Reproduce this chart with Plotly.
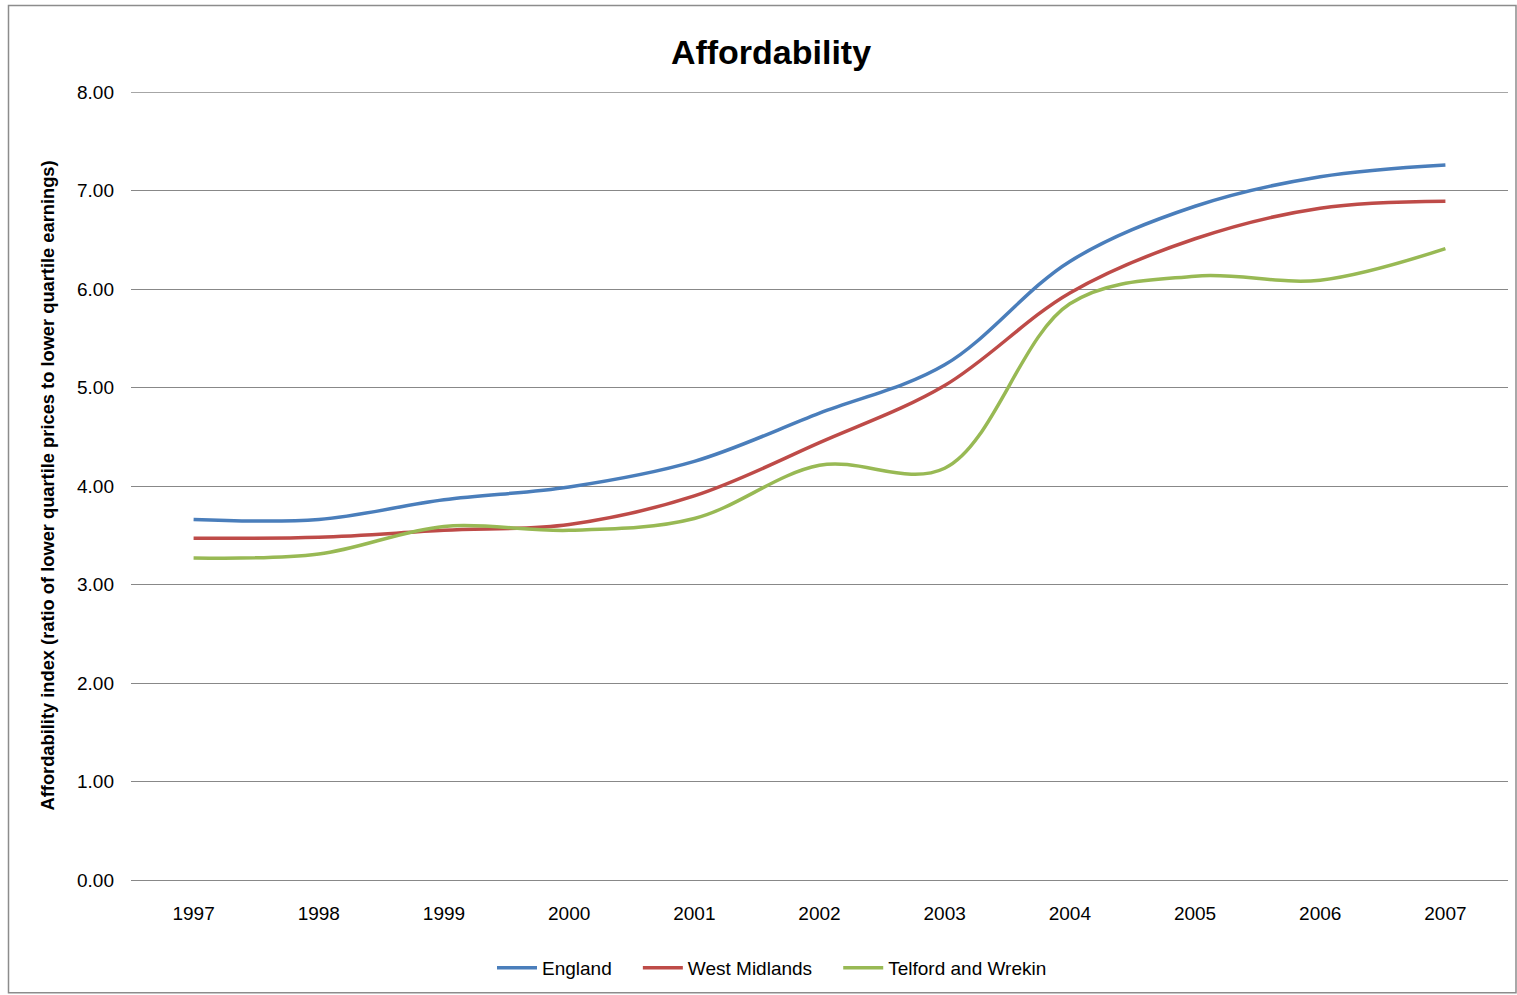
import plotly.graph_objects as go

years = [1997, 1998, 1999, 2000, 2001, 2002, 2003, 2004, 2005, 2006, 2007]
england = [3.66, 3.66, 3.86, 3.99, 4.25, 4.74, 5.23, 6.28, 6.84, 7.14, 7.26]
west_midlands = [3.47, 3.48, 3.55, 3.61, 3.90, 4.44, 5.02, 5.96, 6.51, 6.82, 6.89]
telford = [3.27, 3.31, 3.59, 3.55, 3.67, 4.21, 4.18, 5.85, 6.13, 6.09, 6.41]

series_names = ["England", "West Midlands", "Telford and Wrekin"]
series_colors = ["#4A7EBB", "#BE4B48", "#98B954"]
y_ticks = [0, 1, 2, 3, 4, 5, 6, 7, 8]

W, H = 1517, 995
L, R, T, B = 131, 9, 92, 114
pw, ph = W - L - R, H - T - B

def px(x):
    return (x - L) / pw

def py(y):
    return (H - B - y) / ph

FONT = "Liberation Sans, Arial, sans-serif"
PAD = "\u00a0" * 4
GRID = "#888888"

fig = go.Figure()
for i, (name, vals, col) in enumerate(zip(series_names, [england, west_midlands, telford], series_colors)):
    label = name + (PAD if i < len(series_names) - 1 else "")
    fig.add_trace(go.Scatter(
        x=years, y=vals, name=label, mode="lines",
        line=dict(color=col, width=3.5, shape="spline", smoothing=1),
    ))

fig.update_layout(
    width=W, height=H,
    margin=dict(l=L, r=R, t=T, b=B),
    paper_bgcolor="white", plot_bgcolor="white",
    font=dict(family=FONT, size=19, color="black"),
    title=dict(text="<b>Affordability</b>", x=771 / W, xanchor="center",
               y=1 - 52 / H, yanchor="middle",
               font=dict(family=FONT, size=34, color="black")),
    xaxis=dict(range=[1996.5, 2007.5], tickmode="array", tickvals=years,
               ticktext=[str(y) for y in years], showgrid=False,
               zeroline=False, showline=False, ticks="",
               ticklabelstandoff=20, tickfont=dict(size=19)),
    yaxis=dict(range=[0, 8], tickmode="array",
               tickvals=y_ticks,
               ticktext=[f"{v:.2f}" for v in y_ticks],
               showgrid=True, gridcolor=GRID, gridwidth=1.3,
               zeroline=True, zerolinecolor=GRID, zerolinewidth=1.3,
               showline=False, ticks="", ticklabelstandoff=16,
               tickfont=dict(size=19)),
    legend=dict(orientation="h", x=px(772), xanchor="center",
                y=py(968), yanchor="middle", font=dict(size=19),
                itemwidth=40, tracegroupgap=0, bgcolor="rgba(0,0,0,0)"),
    showlegend=True,
)

# top gridline at the axis maximum (Plotly omits grid at the range edge)
fig.add_shape(type="line", xref="paper", yref="y", x0=0, x1=1,
              y0=y_ticks[-1], y1=y_ticks[-1],
              line=dict(color=GRID, width=1.3), layer="below")

fig.add_annotation(
    text="<b>Affordability index (ratio of lower quartile prices to lower quartile earnings)</b>",
    xref="paper", yref="paper", x=px(48), y=py(486), textangle=-90,
    showarrow=False, xanchor="center", yanchor="middle",
    font=dict(family=FONT, size=18.3, color="black"),
)

fig.add_shape(type="rect", xref="paper", yref="paper",
              x0=px(8.5), x1=px(1516), y0=py(5.5), y1=py(994),
              line=dict(color="#8c8c8c", width=1.5), fillcolor="rgba(0,0,0,0)",
              layer="below")

fig.write_html("out.html")
